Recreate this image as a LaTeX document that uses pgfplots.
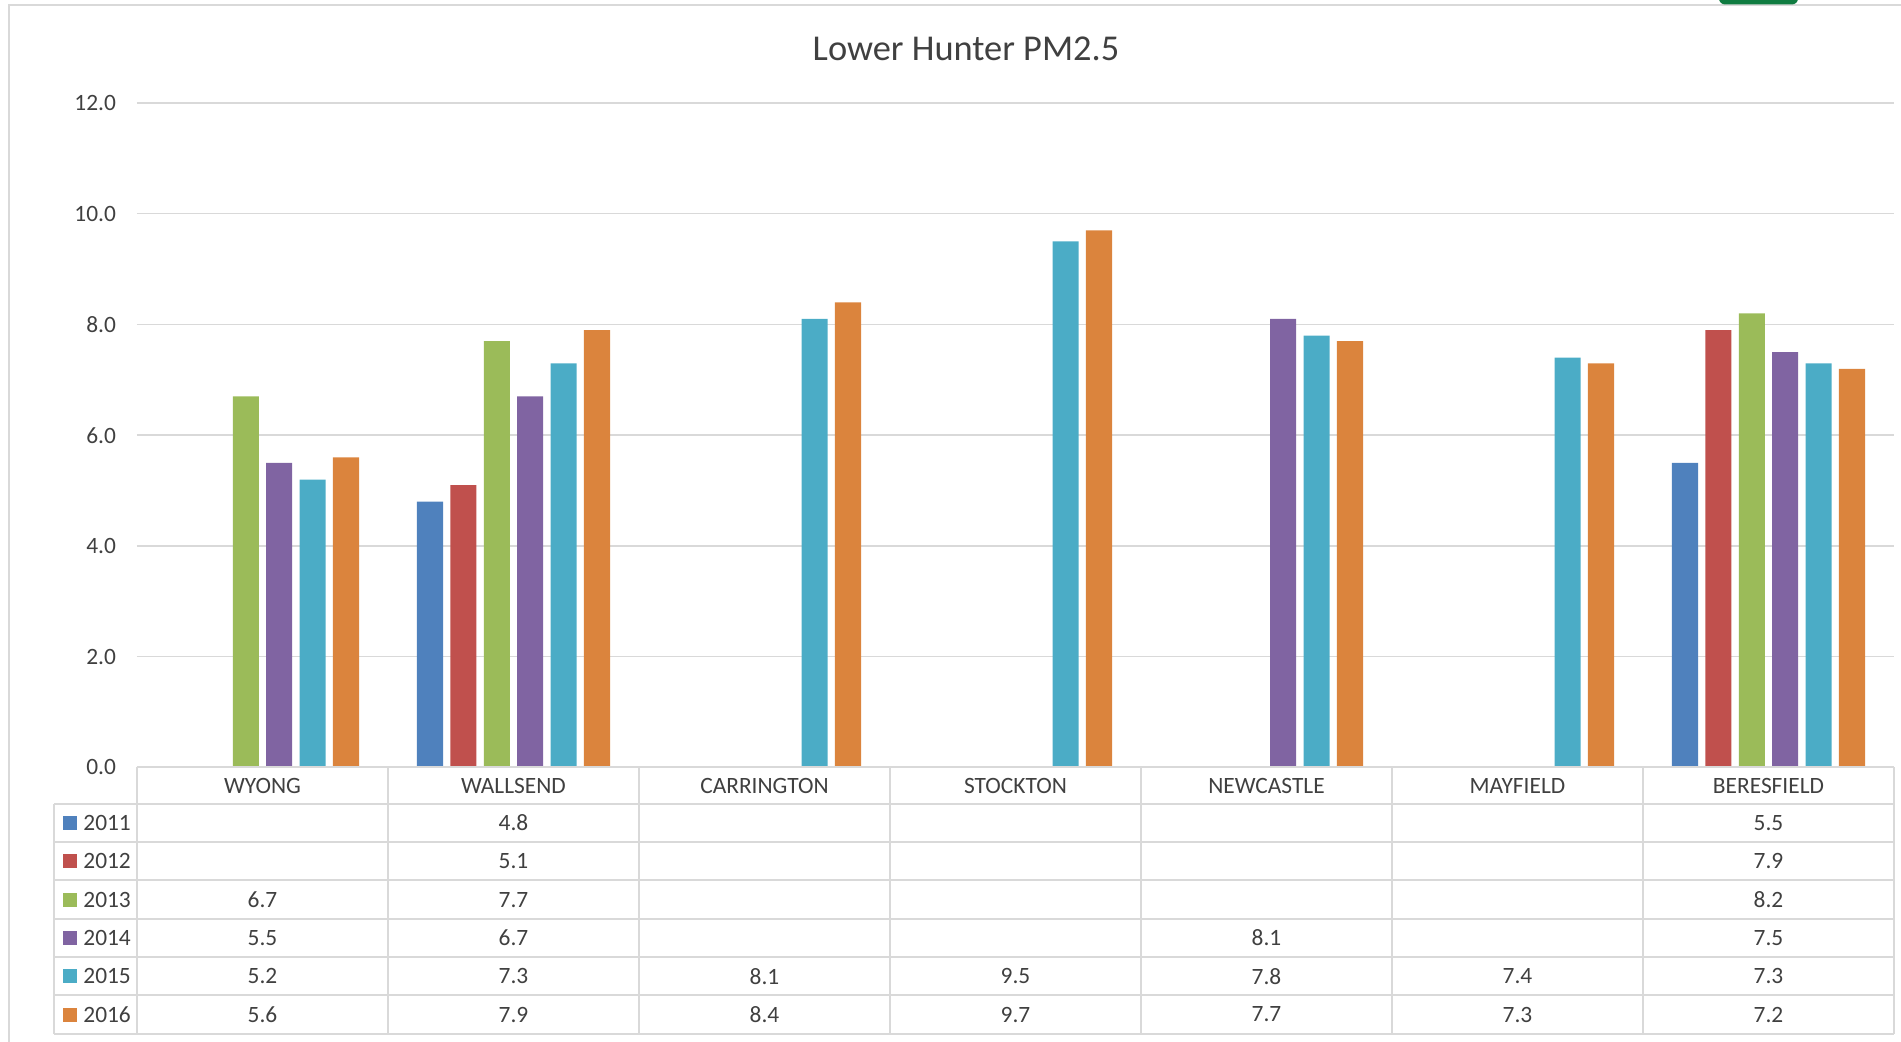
\documentclass[border=0pt]{standalone}
\usepackage{pgfplots}
\pgfplotsset{compat=1.18}
\usepackage{fontspec}
\setmainfont{Carlito}
\definecolor{cA}{HTML}{4F81BD}
\definecolor{cB}{HTML}{C0504D}
\definecolor{cC}{HTML}{9BBB59}
\definecolor{cD}{HTML}{8064A2}
\definecolor{cE}{HTML}{4BACC6}
\definecolor{cF}{HTML}{DB843D}
\definecolor{txt}{HTML}{404040}
\definecolor{gridc}{HTML}{D9D9D9}
\definecolor{xlgreen}{HTML}{107C41}
\begin{document}
\begin{tikzpicture}
\path[use as bounding box] (-68.5pt,-137.25pt) rectangle (882pt,383.75pt);
\begin{axis}[
  at={(0pt,0pt)}, anchor=south west,
  scale only axis, width=878.5pt, height=332.25pt,
  xmin=-0.5, xmax=6.5, ymin=0, ymax=12,
  ytick={0,2,...,12},
  ymajorgrids, grid style={draw=gridc, line width=0.75pt},
  axis line style={draw=none},
  major tick length=0pt,
  xtick={0,...,6},
  xticklabels={WYONG,WALLSEND,CARRINGTON,STOCKTON,NEWCASTLE,MAYFIELD,BERESFIELD},
  ticklabel style={font=\fontsize{11.7}{14}\selectfont, text=txt},
  xticklabel style={anchor=center, yshift=-9.1pt},
  yticklabel style={xshift=-7pt},
  y tick label style={/pgf/number format/.cd, fixed, fixed zerofill, precision=1, /tikz/.cd},
  /pgf/number format/assume math mode=true,
  ybar, bar width=0.104,
  clip=false,
]
\addplot[fill=cA, draw=none, bar shift=-0.3325] coordinates {(1,4.8) (6,5.5)};
\addplot[fill=cB, draw=none, bar shift=-0.1995] coordinates {(1,5.1) (6,7.9)};
\addplot[fill=cC, draw=none, bar shift=-0.0665] coordinates {(0,6.7) (1,7.7) (6,8.2)};
\addplot[fill=cD, draw=none, bar shift=0.0665] coordinates {(0,5.5) (1,6.7) (4,8.1) (6,7.5)};
\addplot[fill=cE, draw=none, bar shift=0.1995] coordinates {(0,5.2) (1,7.3) (2,8.1) (3,9.5) (4,7.8) (5,7.4) (6,7.3)};
\addplot[fill=cF, draw=none, bar shift=0.3325] coordinates {(0,5.6) (1,7.9) (2,8.4) (3,9.7) (4,7.7) (5,7.3) (6,7.2)};
\end{axis}
% frame of chart area
\draw[gridc, line width=1pt] (-64pt,-140pt) -- (-64pt,381.25pt) -- (890pt,381.25pt);
\fill[xlgreen, rounded corners=3pt] (791pt,381.5pt) rectangle (830.5pt,395pt);
% title
\node[font=\fontsize{18.2}{22}\selectfont, text=txt] at (414.5pt,359.5pt) {Lower Hunter PM2.5};
% data table grid
\begin{scope}[gridc, line width=1pt]
\draw (0pt,0pt) -- (878.5pt,0pt);
\foreach \k in {0,...,7} {\draw (125.5pt*\k,0pt) -- (125.5pt*\k,-133.1pt);}
\draw (-41.25pt,-18.2pt) -- (-41.25pt,-133.1pt);
\foreach \r in {0,...,6} {\draw (-41.25pt,-18.2pt-19.15pt*\r) -- (878.5pt,-18.2pt-19.15pt*\r);}
\end{scope}
% legend keys and row labels
\foreach \r/\c/\y in {0/cA/2011,1/cB/2012,2/cC/2013,3/cD/2014,4/cE/2015,5/cF/2016} {
  \fill[\c] (-37pt,-27.775pt-19.15pt*\r-3.5pt) rectangle ++(7pt,7pt);
  \node[anchor=west, inner sep=0pt, text=txt, font=\fontsize{11.7}{14}\selectfont] at (-27pt,-27.775pt-19.15pt*\r) {\y};
}
% table values
\foreach \r/\k/\v in {
  0/1/4.8, 0/6/5.5,
  1/1/5.1, 1/6/7.9,
  2/0/6.7, 2/1/7.7, 2/6/8.2,
  3/0/5.5, 3/1/6.7, 3/4/8.1, 3/6/7.5,
  4/0/5.2, 4/1/7.3, 4/2/8.1, 4/3/9.5, 4/4/7.8, 4/5/7.4, 4/6/7.3,
  5/0/5.6, 5/1/7.9, 5/2/8.4, 5/3/9.7, 5/4/7.7, 5/5/7.3, 5/6/7.2} {
  \node[inner sep=0pt, text=txt, font=\fontsize{11.7}{14}\selectfont] at (62.75pt+125.5pt*\k,-27.775pt-19.15pt*\r) {\v};
}
\end{tikzpicture}
\end{document}
